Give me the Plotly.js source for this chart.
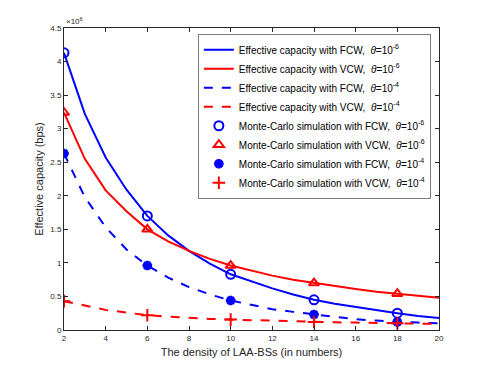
<!DOCTYPE html>
<html>
<head>
<meta charset="utf-8">
<script src="https://cdn.plot.ly/plotly-3.0.1.min.js"></script>
<style>html,body{margin:0;padding:0;background:#fff;}</style>
</head>
<body>
<div id="chart" style="width:485px;height:371px;"></div>
<script>
// x: density of LAA-BSs
const xLine = [2,3,4,5,6,7,8,9,10,11,12,13,14,15,16,17,18,19,20];
// Effective capacity (x10^6 bps)
const fcw6 = [4.13,3.22,2.57,2.09,1.70,1.41,1.18,0.99,0.83,0.72,0.62,0.53,0.45,0.39,0.34,0.29,0.25,0.21,0.18];
const vcw6 = [3.24,2.55,2.08,1.77,1.50,1.32,1.18,1.06,0.96,0.88,0.81,0.75,0.70,0.65,0.61,0.57,0.54,0.51,0.48];
const fcw4 = [2.63,1.98,1.53,1.20,0.96,0.78,0.64,0.53,0.44,0.37,0.31,0.27,0.23,0.19,0.16,0.14,0.12,0.11,0.10];
const vcw4 = [0.43,0.36,0.30,0.26,0.22,0.20,0.18,0.165,0.155,0.145,0.135,0.13,0.12,0.115,0.11,0.105,0.10,0.095,0.09];
// Monte-Carlo simulation points
const xSim = [2,6,10,14,18];
const simFcw6 = [4.13,1.70,0.83,0.45,0.25];
const simVcw6 = [3.24,1.50,0.96,0.70,0.54];
const simFcw4 = [2.63,0.96,0.44,0.23,0.12];
const simVcw4 = [0.43,0.22,0.155,0.12,0.10];
const yTicks = [0,0.5,1,1.5,2,2.5,3,3.5,4,4.5];
const yTickText = ['0','0.5','1','1.5','2','2.5','3','3.5','4','4.5'];
const xTicks = [2,4,6,8,10,12,14,16,18,20];

const th6 = ',  <i>θ</i>=10<sup>-6</sup>';
const th4 = ',  <i>θ</i>=10<sup>-4</sup>';
const blue = '#0000ff', red = '#ff0000';

const traces = [
  {x:xLine, y:fcw6, mode:'lines', name:'Effective capacity with FCW'+th6, line:{color:blue,width:2}},
  {x:xLine, y:vcw6, mode:'lines', name:'Effective capacity with VCW'+th6, line:{color:red,width:2}},
  {x:xLine, y:fcw4, mode:'lines', name:'Effective capacity with FCW'+th4, line:{color:blue,width:2,dash:'dash'}},
  {x:xLine, y:vcw4, mode:'lines', name:'Effective capacity with VCW'+th4, line:{color:red,width:2,dash:'dash'}},
  {x:xSim, y:simFcw6, mode:'markers', name:'Monte-Carlo simulation with FCW'+th6, marker:{symbol:'circle-open',size:9,color:blue,line:{width:2,color:blue}}},
  {x:xSim, y:simVcw6, mode:'markers', name:'Monte-Carlo simulation with VCW'+th6, marker:{symbol:'triangle-up-open',size:9,color:red,line:{width:2,color:red}}},
  {x:xSim, y:simFcw4, mode:'markers', name:'Monte-Carlo simulation with FCW'+th4, marker:{symbol:'asterisk-open',size:8,color:blue,line:{width:3,color:blue}}},
  {x:xSim, y:simVcw4, mode:'markers', name:'Monte-Carlo simulation with VCW'+th4, marker:{symbol:'cross-thin-open',size:9,color:red,line:{width:2,color:red}}}
];

const axisCommon = {
  showline:true, linecolor:'#262626', linewidth:1, mirror:'ticks',
  ticks:'inside', ticklen:4, tickcolor:'#262626', showgrid:false, zeroline:false,
  tickfont:{family:'Liberation Sans, Arial, sans-serif', size:8, color:'#262626'}
};

const layout = {
  width:485, height:371,
  margin:{l:64, r:46, t:28, b:41, pad:0},
  paper_bgcolor:'#fff', plot_bgcolor:'#fff',
  font:{family:'Liberation Sans, Arial, sans-serif', color:'#262626'},
  xaxis:Object.assign({}, axisCommon, {
    range:[2,20], tickvals:xTicks,
    title:{text:'The density of LAA-BSs (in numbers)', font:{size:11, color:'#262626'}, standoff:6}
  }),
  yaxis:Object.assign({}, axisCommon, {
    range:[0,4.5], tickvals:yTicks, ticktext:yTickText,
    title:{text:'Effective capacity (bps)', font:{size:11, color:'#262626'}, standoff:4}
  }),
  showlegend:true,
  legend:{
    x:0.358, y:0.978, xanchor:'left', yanchor:'top',
    bgcolor:'#fff', bordercolor:'#262626', borderwidth:0.6,
    font:{size:10, color:'#000'}, itemwidth:30, tracegroupgap:0
  },
  annotations:[{
    xref:'paper', yref:'paper', x:0, y:1, xanchor:'left', yanchor:'bottom',
    text:'×10<sup>6</sup>', showarrow:false, font:{size:8, color:'#262626'}
  }]
};

Plotly.newPlot('chart', traces, layout, {displayModeBar:false, staticPlot:true});
</script>
</body>
</html>
